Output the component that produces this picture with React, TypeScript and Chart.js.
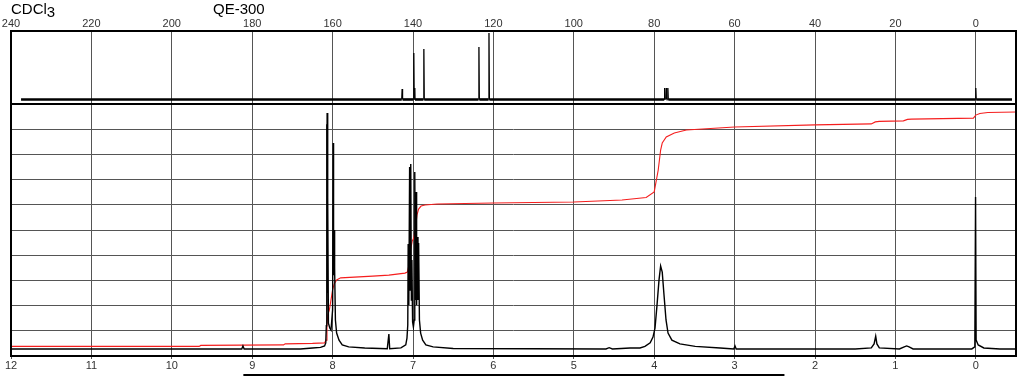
import React, { useEffect, useRef } from 'react';
import { Chart, registerables } from 'chart.js';

Chart.register(...registerables);

// Axis tick labels
const h1Ticks = [12, 11, 10, 9, 8, 7, 6, 5, 4, 3, 2, 1, 0];
const c13Ticks = [240, 220, 200, 180, 160, 140, 120, 100, 80, 60, 40, 20, 0];
const h1Range = [-0.5, 12];
const c13Range = [-10, 240];

// Titles
const solventLabel = 'CDCl';
const solventSub = '3';
const instrumentLabel = 'QE-300';
const bracketPpm = [9.11, 2.38];

// 1H spectrum (ppm, intensity in grid units 0..10)
const h1Ppm = [
  12.0, 9.13, 9.115, 9.1, 8.4, 8.25, 8.15, 8.1, 8.085, 8.078, 8.074, 8.071, 8.068, 8.064, 8.058, 8.052,
  8.035, 8.02, 8.0, 7.993, 7.988, 7.982, 7.975, 7.965, 7.95, 7.92, 7.88, 7.8, 7.6, 7.32, 7.3, 7.29,
  7.15, 7.09, 7.075, 7.065, 7.06, 7.052, 7.042, 7.036, 7.028, 7.02, 7.014, 7.005, 6.995, 6.985, 6.978,
  6.97, 6.962, 6.955, 6.945, 6.938, 6.93, 6.92, 6.905, 6.88, 6.84, 6.75, 6.5, 4.6, 4.56, 4.52, 4.3,
  4.177, 4.115, 4.05, 4.015, 3.99, 3.965, 3.94, 3.92, 3.9, 3.878, 3.853, 3.828, 3.78, 3.68, 3.49, 3.18,
  3.01, 2.995, 2.98, 1.5,
  1.3, 1.265, 1.245, 1.23, 1.2, 0.95, 0.89, 0.86, 0.83, 0.78, 0.05, 0.012, 0.003, -0.004, -0.03, -0.1,
  -0.3, -0.5,
];
const h1Int = [
  0.28, 0.28, 0.4, 0.28, 0.28, 0.32, 0.34, 0.4, 0.52, 1.2, 9.2, 3.0, 9.64, 2.5, 6.3, 1.3,
  1.11, 1.03, 1.83, 8.45, 3.2, 5.0, 3.49, 1.43, 0.91, 0.63, 0.44, 0.36, 0.32, 0.29, 0.87, 0.29,
  0.32, 0.44, 0.71, 1.23, 4.44, 2.02, 7.5, 2.62, 7.62, 2.22, 3.81, 1.35, 1.15, 1.43, 7.3,
  2.22, 6.51, 2.02, 4.72, 2.22, 4.48, 1.43, 0.91, 0.63, 0.44, 0.36, 0.3, 0.28, 0.33, 0.28, 0.32,
  0.32, 0.38, 0.52, 0.75, 1.11, 2.02, 3.02, 3.57, 3.33, 2.42, 1.43, 0.91, 0.63, 0.48, 0.38, 0.32,
  0.28, 0.4, 0.28, 0.28,
  0.32, 0.48, 0.79, 0.48, 0.32, 0.28, 0.36, 0.4, 0.36, 0.28, 0.28, 0.36, 6.31, 0.63, 0.44, 0.32,
  0.28, 0.28,
];

// Integral curve (ppm, grid units)
const integralPpm = [
  12.0, 9.66, 9.64, 8.61, 8.59, 8.25, 8.1, 8.08, 8.07, 8.06, 8.04, 8.0, 7.98, 7.95, 7.9, 7.5, 7.3,
  7.1, 7.07, 7.05, 7.03, 7.01, 6.99, 6.97, 6.95, 6.93, 6.9, 6.85, 6.7, 6.0, 5.0, 4.4, 4.1, 4.0, 3.95,
  3.92, 3.9, 3.85, 3.75, 3.6, 3.3, 3.0, 2.0, 1.3, 1.25, 1.2, 0.9, 0.85, 0.8, 0.03, 0.0, -0.05,
  -0.15, -0.5,
];
const integralVal = [
  0.38, 0.38, 0.42, 0.44, 0.48, 0.5, 0.52, 0.63, 1.23, 1.63, 1.83, 2.62, 2.86, 3.02, 3.1, 3.17, 3.21,
  3.29, 3.33, 3.61, 4.21, 4.56, 4.68, 5.08, 5.6, 5.83, 5.95, 5.99, 6.03, 6.07, 6.11, 6.19, 6.29, 6.51, 7.38,
  8.17, 8.45, 8.69, 8.85, 8.97, 9.03, 9.09, 9.17, 9.21, 9.29, 9.31, 9.33, 9.39, 9.4, 9.44, 9.56, 9.62,
  9.66, 9.68,
];

// 13C spectrum (ppm, grid units 0..10 of top panel)
const c13Ppm = [
  237.5, 142.8, 142.7, 142.6, 139.9, 139.8, 139.7, 139.6, 139.55, 139.5, 137.4, 137.3, 137.2,
  123.7, 123.6, 123.5, 121.2, 121.1, 121.0, 77.5, 77.4, 77.3, 77.1, 77.0, 76.9, 76.7, 76.6, 76.5,
  0.1, 0.0, -0.1, -9.0,
];
const c13Int = [
  0.62, 0.62, 2.05, 0.62, 0.62, 6.99, 0.62, 0.62, 2.2, 0.62, 0.62, 7.53, 0.62,
  0.62, 7.81, 0.62, 0.62, 9.73, 0.62, 0.62, 2.19, 0.62, 0.62, 2.19, 0.62, 0.62, 2.19, 0.62,
  0.62, 2.19, 0.62, 0.62,
];

const FONT = '"Liberation Sans", Arial, sans-serif';

const toXY = (xs: number[], ys: number[]) => xs.map((x, i) => ({ x, y: ys[i] }));

const decorPlugin = {
  id: 'decor',
  afterDraw(chart: any) {
    const { ctx, chartArea, scales } = chart;
    ctx.save();
    ctx.strokeStyle = '#000';
    ctx.lineWidth = 2;
    const yTop = scales.y2;
    const yBot = scales.y;
    ctx.strokeRect(chartArea.left, yTop.top, chartArea.right - chartArea.left, yTop.bottom - yTop.top);
    ctx.strokeRect(chartArea.left, yBot.top, chartArea.right - chartArea.left, yBot.bottom - yBot.top);

    ctx.fillStyle = '#000';
    ctx.font = `15px ${FONT}`;
    ctx.textBaseline = 'alphabetic';
    ctx.textAlign = 'left';
    ctx.fillText(solventLabel, 11, 14);
    const w = ctx.measureText(solventLabel).width;
    ctx.fillText(solventSub, 11 + w, 17);
    ctx.fillText(instrumentLabel, 213, 14);

    const bx1 = scales.x.getPixelForValue(bracketPpm[0]);
    const bx2 = scales.x.getPixelForValue(bracketPpm[1]);
    ctx.lineWidth = 2;
    ctx.beginPath();
    ctx.moveTo(bx1, 375);
    ctx.lineTo(bx2, 375);
    ctx.stroke();
    ctx.restore();
  },
};

export default function App() {
  const ref = useRef<HTMLCanvasElement>(null);
  useEffect(() => {
    if (!ref.current) return;
    const chart = new Chart(ref.current, {
      type: 'line',
      data: {
        datasets: [
          {
            data: toXY(h1Ppm, h1Int),
            xAxisID: 'x',
            yAxisID: 'y',
            borderColor: '#000',
            borderWidth: 1.4,
            pointRadius: 0,
            tension: 0,
          },
          {
            data: toXY(integralPpm, integralVal),
            xAxisID: 'x',
            yAxisID: 'y',
            borderColor: 'rgb(245,30,30)',
            borderWidth: 1.1,
            pointRadius: 0,
            tension: 0,
          },
          {
            data: toXY(c13Ppm, c13Int),
            xAxisID: 'x2',
            yAxisID: 'y2',
            borderColor: '#000',
            borderWidth: 2.6,
            pointRadius: 0,
            tension: 0,
            segment: {
              borderWidth: (c: any) => (c.p0.parsed.y > 0.7 || c.p1.parsed.y > 0.7 ? 1.3 : 2.6),
            },
          },
        ],
      },
      options: {
        animation: false,
        responsive: false,
        devicePixelRatio: 1,
        events: [],
        layout: { padding: { left: 11, right: 8, top: 0, bottom: 0 } },
        plugins: { legend: { display: false }, tooltip: { enabled: false } },
        scales: {
          x: {
            type: 'linear',
            position: 'bottom',
            reverse: true,
            min: h1Range[0],
            max: h1Range[1],
            afterBuildTicks: (s: any) => {
              s.ticks = h1Ticks.map((v) => ({ value: v }));
            },
            afterFit: (s: any) => {
              s.height = 26;
            },
            grid: { color: '#555', lineWidth: 1, drawTicks: true, tickLength: 3, tickColor: '#555' },
            border: { display: false },
            ticks: { color: '#333', font: { family: FONT, size: 11 }, padding: 0, maxRotation: 0, autoSkip: false },
          },
          x2: {
            type: 'linear',
            position: 'top',
            reverse: true,
            min: c13Range[0],
            max: c13Range[1],
            afterBuildTicks: (s: any) => {
              s.ticks = c13Ticks.map((v) => ({ value: v }));
            },
            afterFit: (s: any) => {
              s.height = 31;
            },
            grid: { display: false, drawTicks: false },
            border: { display: false },
            ticks: { color: '#333', font: { family: FONT, size: 11 }, padding: 0, maxRotation: 0, autoSkip: false },
          },
          y: {
            type: 'linear',
            position: 'left',
            stack: 'panels',
            stackWeight: 252,
            min: 0,
            max: 10,
            afterBuildTicks: (s: any) => {
              s.ticks = [0, 1, 2, 3, 4, 5, 6, 7, 8, 9, 10].map((v) => ({ value: v }));
            },
            afterFit: (s: any) => {
              s.width = 0;
            },
            grid: { color: '#555', lineWidth: 1, drawTicks: false },
            border: { display: false },
            ticks: { display: false },
          },
          y2: {
            type: 'linear',
            position: 'left',
            stack: 'panels',
            stackWeight: 73,
            min: 0,
            max: 10,
            afterFit: (s: any) => {
              s.width = 0;
            },
            grid: { display: false, drawTicks: false },
            border: { display: false },
            ticks: { display: false },
          },
        },
      },
      plugins: [decorPlugin],
    });
    return () => chart.destroy();
  }, []);
  return (
    <div style={{ position: 'absolute', left: 0, top: 0, width: 1024, height: 382, background: '#fff' }}>
      <canvas ref={ref} width={1024} height={382} style={{ display: 'block' }} />
    </div>
  );
}
